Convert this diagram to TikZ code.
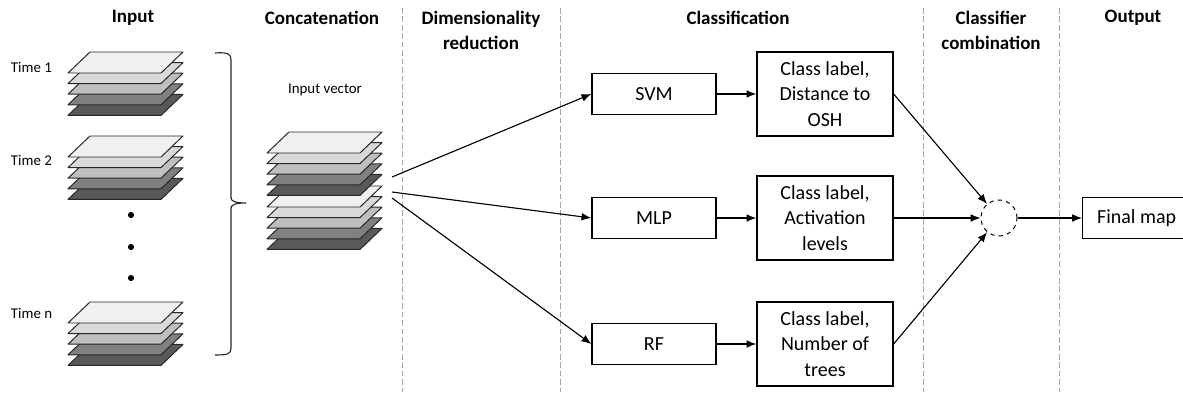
\documentclass[tikz,border=0pt]{standalone}
\usepackage{fontspec}
\setmainfont{Carlito}
\usetikzlibrary{arrows.meta,positioning,calc}

% one stack of five image layers, #1,#2 = lower left corner of the top layer
\newcommand{\layerstack}[2]{%
  \foreach \k/\tone in {4/black!65,3/black!50,2/black!25,1/black!15,0/black!6}
    \filldraw[layer,fill=\tone] (#1,#2+\k*10.6) -- ++(93,0) -- ++(22,-21) -- ++(-93,0) -- cycle;
}

\begin{document}
\begin{tikzpicture}[x=0.025cm,y=-0.025cm,
    >={Latex[length=7pt,width=5.5pt]},
    layer/.style={draw=black!85,line width=0.7pt,line join=round},
    header/.style={font=\bfseries\fontsize{13.5}{17.5}\selectfont,align=center},
    small/.style={font=\fontsize{10.6}{12}\selectfont},
    box/.style={draw,line width=0.9pt,font=\fontsize{14.2}{18.3}\selectfont,align=center,inner sep=0pt},
    method/.style={box,minimum width=3.1cm,minimum height=1.025cm},
    result/.style={box,minimum width=3.4cm,minimum height=2.1cm},
    conn/.style={->,line width=0.8pt},
    sep/.style={gray!70,line width=0.6pt,dash pattern=on 4pt off 2pt}]
    \useasboundingbox (0,0) rectangle (1183,396);

    % Column separators
    \foreach \x in {402,560,923,1059}
        \draw[sep] (\x,8) -- (\x,392);

    % Headers
    \node[header] (hin) at (133,18) {Input};
    \node[header] (hcat) at (322,18) {Concatenation};
    \node[header] (hdim) at (481,30.5) {Dimensionality\\reduction};
    \node[header] (hcls) at (738,18) {Classification};
    \node[header] (hcomb) at (991,30.5) {Classifier\\combination};
    \node[header] (hout) at (1133,18) {Output};

    % Input images
    \node[small,anchor=west] (t1) at (6,67) {Time 1};
    \node[small,anchor=west] (t2) at (6,160) {Time 2};
    \node[small,anchor=west] (tn) at (6,313) {Time n};
    \layerstack{68}{73}
    \layerstack{68}{157}
    \layerstack{68}{323}
    \foreach \y in {215,247,278}
        \fill (131,\y) circle (2.2pt);

    % Brace
    \draw[line width=0.8pt,black!85] (215,53) .. controls (228,52) and (231,54) .. (231,60) -- (231,198)
        .. controls (231,202) and (238,203) .. (246,203) .. controls (238,203) and (231,204) .. (231,208)
        -- (231,348) .. controls (231,354) and (228,355) .. (215,355);

    % Input vector
    \node[small] (vec) at (325,90) {Input vector};
    \layerstack{267}{207}
    \layerstack{267}{153}
    \coordinate (v1) at (392,177);
    \coordinate (v2) at (392,192);
    \coordinate (v3) at (392,198);

    % Classifiers
    \node[method] (svm) at (654,94) {SVM};
    \node[method] (mlp) at (654,218) {MLP};
    \node[method] (rf) at (654,344) {RF};
    \node[result] (lab1) at (825,94) {Class label,\\Distance to\\OSH};
    \node[result] (lab2) at (825,218) {Class label,\\Activation\\levels};
    \node[result] (lab3) at (825,344) {Class label,\\Number of\\trees};

    % Combination and output
    \node[draw,circle,dashed,line width=0.7pt,minimum size=0.9cm] (comb) at (999,218) {};
    \node[box,anchor=west,minimum width=2.7cm,minimum height=1.025cm] (final) at (1082,218) {Final map};

    \draw[conn] (v1) -- (svm.west);
    \draw[conn] (v2) -- (mlp.west);
    \draw[conn] (v3) -- (rf.west);
    \draw[conn] (svm) -- (lab1);
    \draw[conn] (mlp) -- (lab2);
    \draw[conn] (rf) -- (lab3);
    \draw[conn] (lab1.east) -- (comb);
    \draw[conn] (lab2) -- (comb);
    \draw[conn] (lab3.east) -- (comb);
    \draw[conn] (comb) -- (final);
\end{tikzpicture}
\end{document}
